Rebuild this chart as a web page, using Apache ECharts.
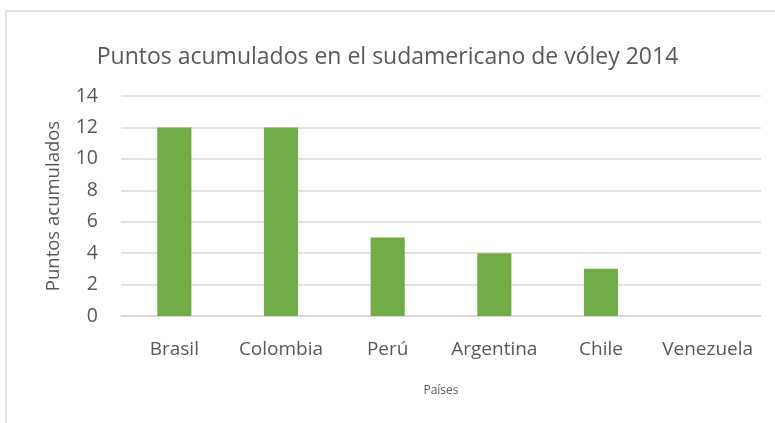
<!DOCTYPE html>
<html>
<head>
<meta charset="utf-8">
<script src="https://cdn.jsdelivr.net/npm/echarts@6/dist/echarts.min.js"></script>
<style>
  html, body { margin: 0; padding: 0; background: #fff; }
  #chart { width: 775px; height: 423px; }
</style>
</head>
<body>
<div id="chart"></div>
<script>
// Puntos por país
const paises = ['Brasil', 'Colombia', 'Perú', 'Argentina', 'Chile', 'Venezuela'];
const puntos = [12, 12, 5, 4, 3, 0];
const yTicks = { min: 0, max: 14, interval: 2 };

const FONT = 'Open Sans';
const chart = echarts.init(document.getElementById('chart'), null, { renderer: 'canvas' });

chart.setOption({
  animation: false,
  backgroundColor: '#ffffff',
  textStyle: { fontFamily: FONT },
  graphic: [{
    type: 'rect',
    shape: { x: 6, y: 11, width: 800, height: 440 },
    style: { fill: 'none', stroke: '#d9d9d9', lineWidth: 1.5 },
    z: -1
  }],
  title: {
    text: 'Puntos acumulados en el sudamericano de vóley 2014',
    left: 'center',
    top: 41,
    textStyle: { fontFamily: FONT, fontSize: 23, fontWeight: 'normal', color: '#595959' }
  },
  grid: { left: 121, right: 14, top: 96, bottom: 107 },
  xAxis: {
    type: 'category',
    data: paises,
    name: 'Países',
    nameLocation: 'middle',
    nameGap: 69,
    nameTextStyle: { fontFamily: FONT, fontSize: 12, color: '#595959' },
    axisLine: { lineStyle: { color: '#d9d9d9', width: 1.5 } },
    axisTick: { show: false },
    axisLabel: { fontFamily: FONT, fontSize: 19, color: '#595959', margin: 24, interval: 0, hideOverlap: false }
  },
  yAxis: {
    type: 'value',
    min: yTicks.min,
    max: yTicks.max,
    interval: yTicks.interval,
    name: 'Puntos acumulados',
    nameLocation: 'middle',
    nameGap: 58,
    nameRotate: 90,
    nameTextStyle: { fontFamily: FONT, fontSize: 18.5, color: '#595959' },
    axisLine: { show: false },
    axisTick: { show: false },
    splitLine: { lineStyle: { color: '#d9d9d9', width: 1.5 } },
    axisLabel: { fontFamily: FONT, fontSize: 19.5, color: '#595959', margin: 23 }
  },
  series: [{
    type: 'bar',
    data: puntos,
    barWidth: '32%',
    itemStyle: { color: '#70ad47' }
  }]
});
</script>
</body>
</html>
